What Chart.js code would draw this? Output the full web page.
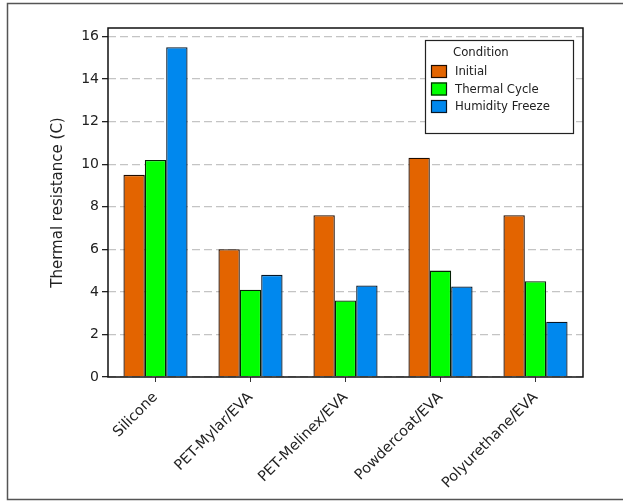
<!DOCTYPE html>
<html>
<head>
<meta charset="utf-8">
<script src="https://cdn.jsdelivr.net/npm/chart.js@4"></script>
<style>
  html, body { margin: 0; padding: 0; background: #fff; }
  #wrap { width: 623px; height: 501px; }
</style>
</head>
<body>
<div id="wrap"><canvas id="chart" width="623" height="501"></canvas></div>
<script>
const categories = ['Silicone', 'PET-Mylar/EVA', 'PET-Melinex/EVA', 'Powdercoat/EVA', 'Polyurethane/EVA'];
const initialValues = [9.5, 6.0, 7.6, 10.3, 7.6];
const thermalCycleValues = [10.2, 4.1, 3.6, 5.0, 4.5];
const humidityFreezeValues = [15.5, 4.8, 4.3, 4.25, 2.6];
const yTicks = [0, 2, 4, 6, 8, 10, 12, 14, 16];

const FONT = 'DejaVu Sans';

// legend box drawn inside the plot area, top right
const legendBox = {
    id: 'legendBox',
    afterDraw(chart) {
        const ctx = chart.ctx;
        const x = 425, y = 40, w = 148, h = 93;
        ctx.save();
        ctx.fillStyle = '#fff';
        ctx.fillRect(x, y, w, h);
        ctx.strokeStyle = '#222';
        ctx.lineWidth = 1.2;
        ctx.strokeRect(x + 0.5, y + 0.5, w, h);
        ctx.fillStyle = '#222';
        ctx.font = '11.7px "' + FONT + '"';
        ctx.textBaseline = 'middle';
        ctx.fillText('Condition', 453, 53);
        chart.data.datasets.forEach((ds, i) => {
            const yy = 65 + i * 17.5;
            ctx.fillStyle = ds.backgroundColor;
            ctx.fillRect(431, yy, 16, 13);
            ctx.strokeStyle = ds.borderColor;
            ctx.lineWidth = 1.2;
            ctx.strokeRect(431.5, yy + 0.5, 15, 12);
            ctx.fillStyle = '#222';
            ctx.fillText(ds.label, 455, yy + 7);
        });
        ctx.restore();
    }
};

// box round the plot and frame round the picture
const frames = {
    id: 'frames',
    afterDatasetsDraw(chart) {
        const a = chart.chartArea;
        const ctx = chart.ctx;
        ctx.save();
        ctx.strokeStyle = '#111';
        ctx.lineWidth = 1.5;
        ctx.strokeRect(a.left, a.top, a.right - a.left, a.bottom - a.top);
        ctx.restore();
    },
    afterDraw(chart) {
        const ctx = chart.ctx;
        ctx.save();
        ctx.strokeStyle = '#555';
        ctx.lineWidth = 1.5;
        ctx.beginPath();
        ctx.moveTo(630, 3.5);
        ctx.lineTo(7.5, 3.5);
        ctx.lineTo(7.5, 499.5);
        ctx.lineTo(630, 499.5);
        ctx.stroke();
        ctx.restore();
    }
};

new Chart(document.getElementById('chart').getContext('2d'), {
    type: 'bar',
    data: {
        labels: categories,
        datasets: [
            { label: 'Initial', data: initialValues, backgroundColor: '#e36400', borderColor: '#1e0c00' },
            { label: 'Thermal Cycle', data: thermalCycleValues, backgroundColor: '#00ff00', borderColor: '#062006' },
            { label: 'Humidity Freeze', data: humidityFreezeValues, backgroundColor: '#0088ee', borderColor: '#061626' }
        ]
    },
    options: {
        responsive: false,
        animation: false,
        layout: { padding: { left: 0, right: 40, top: 28, bottom: 0 } },
        datasets: {
            bar: { categoryPercentage: 0.675, barPercentage: 1.0, borderWidth: 1.3 }
        },
        plugins: {
            legend: { display: false },
            tooltip: { enabled: false }
        },
        scales: {
            x: {
                offset: true,
                grid: { drawOnChartArea: false, offset: false, tickLength: 5, tickColor: '#333' },
                border: { display: false },
                ticks: {
                    minRotation: 45, maxRotation: 45, padding: 7,
                    color: '#222', font: { family: FONT, size: 14.5 }
                },
                afterFit(scale) { scale.height = 124; }
            },
            y: {
                min: 0,
                max: 16.4,
                grid: { color: '#c4c4c4', lineWidth: 1.3, tickColor: '#222', tickLength: 6, tickBorderDash: [] },
                border: { display: false, dash: [8, 4] },
                ticks: {
                    stepSize: 2, includeBounds: false, padding: 3,
                    color: '#222', font: { family: FONT, size: 14 }
                },
                afterBuildTicks(scale) { scale.ticks = yTicks.map(v => ({ value: v })); },
                title: {
                    display: true, text: 'Thermal resistance (C)', color: '#222',
                    font: { family: FONT, size: 15 }, padding: { top: 49, bottom: 0 }
                },
                afterFit(scale) { scale.width = 108; }
            }
        }
    },
    plugins: [frames, legendBox]
});
</script>
</body>
</html>
